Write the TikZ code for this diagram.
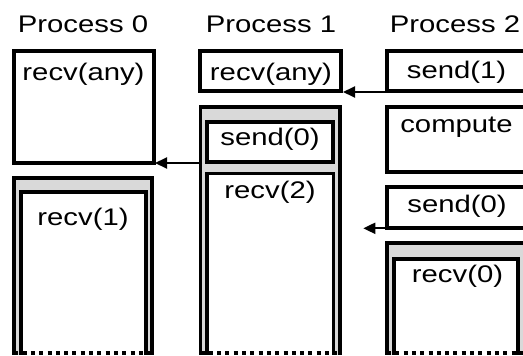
\documentclass[tikz,border=0pt]{standalone}
\usepackage{fontspec}
\setmainfont{Liberation Sans}
\usepackage{graphicx}
\usetikzlibrary{arrows.meta}
\newcommand\hstr[1]{\scalebox{1.22}[1]{#1}}
\tikzset{
  lbl/.style={anchor=base, inner sep=0pt, font=\fontsize{24}{29}\selectfont},
  boxline/.style={line width=3.7pt, line join=miter},
  shade/.style={fill=black!15},
  cut/.style={line width=3.2pt, dash pattern=on 4pt off 4.3pt},
  msg/.style={line width=2pt, -{Triangle[length=12pt,width=11pt]}},
}
\begin{document}
\begin{tikzpicture}[x=1pt,y=-1pt]
\useasboundingbox (0,0) rectangle (523,356);
\clip (0,0) rectangle (523,356);

% ---------- Process 0 ----------
\coordinate (a0nw) at (14,51);
\coordinate (a0se) at (154,163);
\draw[boxline] (a0nw) rectangle (a0se);
\fill[shade] (14.3,178) rectangle (152,354.5);
\fill[white] (21,192.3) rectangle (145.7,354.5);
\draw[boxline] (14.3,354.5) -- (14.3,178) -- (152,178) -- (152,354.5);
\draw[boxline] (21,354.5) -- (21,192.3) -- (145.7,192.3) -- (145.7,354.5);
\draw[cut] (14.3,353) -- (152,353);

% ---------- Process 1 ----------
\coordinate (a1nw) at (200,51.3);
\coordinate (a1se) at (341.3,90.7);
\draw[boxline] (a1nw) rectangle (a1se);
\fill[shade] (200.5,107.3) rectangle (340,354.5);
\fill[white] (206.7,121.7) rectangle (333.3,161.7);
\fill[white] (207,173.5) rectangle (333.5,354.5);
\draw[boxline] (200.5,354.5) -- (200.5,107.3) -- (340,107.3) -- (340,354.5);
\coordinate (c1nw) at (206.7,121.7);
\coordinate (c1se) at (333.3,161.7);
\draw[boxline] (c1nw) rectangle (c1se);
\draw[boxline] (207,354.5) -- (207,173.5) -- (333.5,173.5) -- (333.5,354.5);
\draw[cut] (200.5,353) -- (340,353);

% ---------- Process 2 ----------
\draw[boxline] (386.7,51.3) rectangle (528,90.7);
\draw[boxline] (386.7,107.3) rectangle (528,172);
\draw[boxline] (387,186.7) rectangle (528,227.7);
\fill[shade] (387,243.3) rectangle (524.4,354.5);
\fill[white] (393.8,259) rectangle (517.7,354.5);
\draw[boxline] (387,354.5) -- (387,243.3) -- (524.4,243.3) -- (524.4,354.5);
\draw[boxline] (393.8,354.5) -- (393.8,259) -- (517.7,259) -- (517.7,354.5);
\draw[cut] (387,353) -- (524.4,353);

% ---------- labels ----------
\node[lbl] (t0) at (83,32) {\hstr{Process 0}};
\node[lbl] (t1) at (271,32) {\hstr{Process 1}};
\node[lbl] (t2) at (455,32) {\hstr{Process 2}};
\node[lbl] (r0) at (83.5,80) {\hstr{recv(any)}};
\node[lbl] (r1) at (271,80) {\hstr{recv(any)}};
\node[lbl] (s1) at (456.5,78) {\hstr{send(1)}};
\node[lbl] (s0a) at (270,145) {\hstr{send(0)}};
\node[lbl] (cp) at (456.5,132) {\hstr{compute}};
\node[lbl] (r2) at (270,198) {\hstr{recv(2)}};
\node[lbl] (r1b) at (83,225) {\hstr{recv(1)}};
\node[lbl] (s0b) at (457,212) {\hstr{send(0)}};
\node[lbl] (r0b) at (457.5,282) {\hstr{recv(0)}};

% ---------- messages ----------
\coordinate (m1from) at (386.7,92);
\coordinate (m1to) at (343,92);
\coordinate (m2from) at (202,163);
\coordinate (m2to) at (155,163);
\coordinate (m3from) at (387,228.3);
\coordinate (m3to) at (363.3,228.3);
\draw[msg] (m1from) -- (m1to);
\draw[msg] (m2from) -- (m2to);
\draw[msg] (m3from) -- (m3to);
\end{tikzpicture}
\end{document}
